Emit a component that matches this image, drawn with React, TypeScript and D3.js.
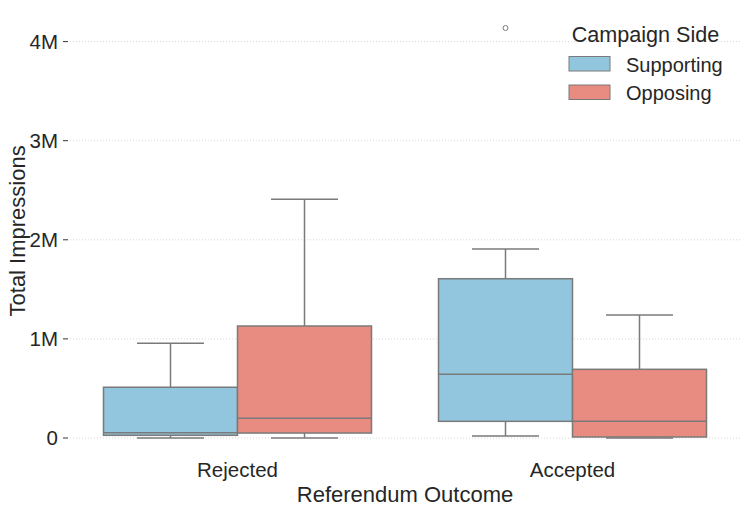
import React from "react";
import * as d3 from "d3";

const categories = ["Rejected", "Accepted"];
const sides = ["Supporting", "Opposing"];
const sideColors = ["#92C6DE", "#E88B80"];
// [whiskerLow, q1, median, q3, whiskerHigh] in millions
const supportingStats = [
  [0.0, 0.027, 0.053, 0.512, 0.955],
  [0.02, 0.168, 0.643, 1.607, 1.907],
];
const opposingStats = [
  [0.0, 0.05, 0.199, 1.13, 2.41],
  [0.0, 0.01, 0.168, 0.693, 1.241],
];
const outliers = [{ cat: "Accepted", side: "Supporting", value: 4.137 }];
const yTicks = [0, 1, 2, 3, 4];
const yTickLabels = ["0", "1M", "2M", "3M", "4M"];

const W = 748;
const H = 514;
const font = "'Liberation Sans', Arial, sans-serif";
const stroke = "#7a7a7a";

export default function App() {
  const x = d3.scaleBand().domain(categories).range([70, 740]).padding(0);
  const inner = d3.scaleBand().domain(sides).range([0, x.bandwidth()]).paddingInner(0).paddingOuter(0.25);
  const y = d3.scaleLinear().domain([-0.207, 4.344]).range([458.5, 7.5]);
  const statsBySide = [supportingStats, opposingStats];

  return (
    <svg width={W} height={H} style={{ position: "absolute", left: 0, top: 0, background: "#fff" }}>
      {yTicks.map((t, i) => (
        <g key={t}>
          <line x1={70} x2={740} y1={y(t)} y2={y(t)} stroke="#cccccc" strokeWidth={0.8} strokeDasharray="1,2" />
          <line x1={63} x2={68} y1={y(t)} y2={y(t)} stroke="#333" strokeWidth={1} />
          <text x={58} y={y(t)} dy="0.36em" textAnchor="end" fontFamily={font} fontSize={20.5} fill="#262626">
            {yTickLabels[i]}
          </text>
        </g>
      ))}
      {categories.map((c, ci) =>
        sides.map((s, si) => {
          const [lo, q1, med, q3, hi] = statsBySide[si][ci];
          const x0 = (x(c) as number) + (inner(s) as number);
          const bw = inner.bandwidth();
          const cx = x0 + bw / 2;
          return (
            <g key={c + s}>
              <line x1={cx} x2={cx} y1={y(q3)} y2={y(hi)} stroke={stroke} strokeWidth={1.5} />
              <line x1={cx} x2={cx} y1={y(q1)} y2={y(lo)} stroke={stroke} strokeWidth={1.5} />
              <line x1={cx - bw / 4} x2={cx + bw / 4} y1={y(hi)} y2={y(hi)} stroke={stroke} strokeWidth={1.5} />
              <line x1={cx - bw / 4} x2={cx + bw / 4} y1={y(lo)} y2={y(lo)} stroke={stroke} strokeWidth={1.5} />
              <rect x={x0} y={y(q3)} width={bw} height={y(q1) - y(q3)} fill={sideColors[si]} stroke={stroke} strokeWidth={1.5} />
              <line x1={x0} x2={x0 + bw} y1={y(med)} y2={y(med)} stroke={stroke} strokeWidth={1.5} />
            </g>
          );
        })
      )}
      {outliers.map((o, i) => {
        const cx = (x(o.cat) as number) + (inner(o.side) as number) + inner.bandwidth() / 2;
        return <circle key={i} cx={cx} cy={y(o.value)} r={2.5} fill="none" stroke={stroke} strokeWidth={1} />;
      })}
      {categories.map((c) => (
        <text key={c} x={(x(c) as number) + x.bandwidth() / 2} y={477} textAnchor="middle" fontFamily={font} fontSize={20.5} fill="#262626">
          {c}
        </text>
      ))}
      <text x={405} y={502} textAnchor="middle" fontFamily={font} fontSize={22} fill="#262626">
        Referendum Outcome
      </text>
      <text transform={`translate(25,${y(2.09)}) rotate(-90)`} textAnchor="middle" fontFamily={font} fontSize={22} fill="#262626">
        Total Impressions
      </text>
      <g>
        <text x={645.5} y={42} textAnchor="middle" fontFamily={font} fontSize={21.6} fill="#262626">
          Campaign Side
        </text>
        {sides.map((s, i) => (
          <g key={s}>
            <rect x={569} y={56.5 + i * 28.5} width={41} height={14.5} fill={sideColors[i]} stroke={stroke} strokeWidth={1} />
            <text x={626} y={71.5 + i * 28.5} fontFamily={font} fontSize={20} fill="#262626">
              {s}
            </text>
          </g>
        ))}
      </g>
    </svg>
  );
}
